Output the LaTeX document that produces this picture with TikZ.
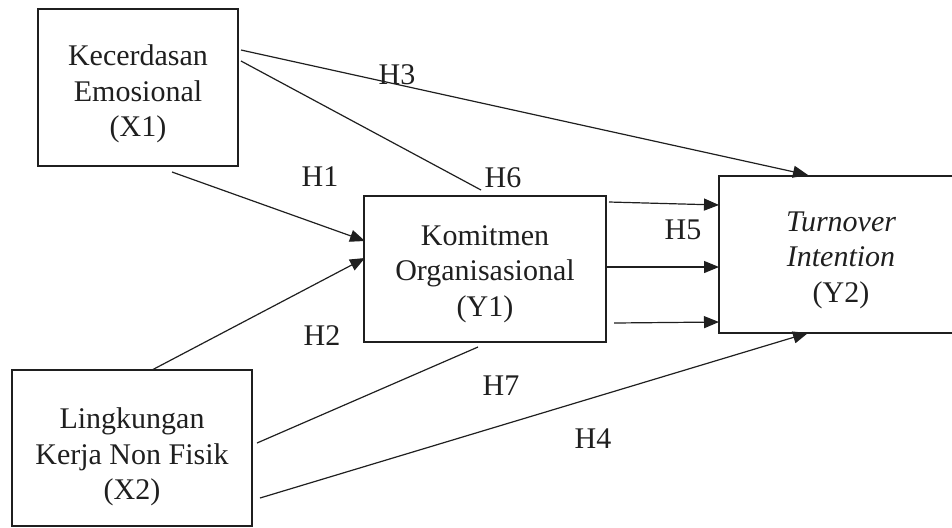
\documentclass[tikz,border=0pt]{standalone}
\usepackage{fontspec}
\setmainfont{Liberation Serif}
\usetikzlibrary{arrows.meta}
\begin{document}
\begin{tikzpicture}[x=0.5pt,y=-0.5pt,
  box/.style={draw=black!88,line width=1.2pt,inner sep=0pt},
  txt/.style={align=center,inner sep=0pt,font=\fontsize{15}{17.8}\selectfont,text=black!88},
  conn/.style={draw=black!88,line width=0.6pt},
  arr/.style={conn,-{Triangle[length=7.5pt,width=6pt]}},
  lab/.style={inner sep=0pt,font=\fontsize{15}{18}\selectfont,text=black!88}]
\useasboundingbox (0,0) rectangle (952,527);
\clip (0,0) rectangle (952,527);
\node[box,minimum width=100pt,minimum height=78.5pt] (x1) at (138,87.5) {};
\node[box,minimum width=120pt,minimum height=78pt] (x2) at (132,448) {};
\node[box,minimum width=121pt,minimum height=73pt] (y1) at (485,269) {};
\node[box,minimum width=124pt,minimum height=78.5pt] (y2) at (843,254.5) {};
\node[txt] (x1t) at (138,94) {Kecerdasan\\Emosional\\(X1)};
\node[txt] (x2t) at (132,457) {Lingkungan\\Kerja Non Fisik\\(X2)};
\node[txt] (y1t) at (485,274) {Komitmen\\Organisasional\\(Y1)};
\node[txt] (y2t) at (841,260) {\itshape Turnover\\\itshape Intention\\(Y2)};
% free ends
\coordinate (h3s) at (241,50);  \coordinate (h3e) at (808,175);
\coordinate (h6s) at (241,61);  \coordinate (h6e) at (481,190);
\coordinate (h1s) at (172,172); \coordinate (h1e) at (365,241);
\coordinate (h2s) at (152,370); \coordinate (h2e) at (365,258);
\coordinate (h7s) at (257,443); \coordinate (h7e) at (478,347);
\coordinate (h4s) at (260,498); \coordinate (h4e) at (808,333);
\coordinate (h5as) at (609,202); \coordinate (h5ae) at (719,205);
\coordinate (h5bs) at (606,267); \coordinate (h5be) at (719,267);
\coordinate (h5cs) at (614,323); \coordinate (h5ce) at (719,322);
\draw[arr] (h3s) -- (h3e);
\draw[conn] (h6s) -- (h6e);
\draw[arr] (h1s) -- (h1e);
\draw[arr] (h2s) -- (h2e);
\draw[conn] (h7s) -- (h7e);
\draw[arr] (h4s) -- (h4e);
\draw[arr] (h5as) -- (h5ae);
\draw[arr] (h5bs) -- (h5be);
\draw[arr] (h5cs) -- (h5ce);
\node[lab] (l3) at (397,75) {H3};
\node[lab] (l6) at (503,178) {H6};
\node[lab] (l1) at (320,177) {H1};
\node[lab] (l2) at (322,336) {H2};
\node[lab] (l7) at (501,386) {H7};
\node[lab] (l4) at (593,439) {H4};
\node[lab] (l5) at (683,230) {H5};
\end{tikzpicture}
\end{document}
